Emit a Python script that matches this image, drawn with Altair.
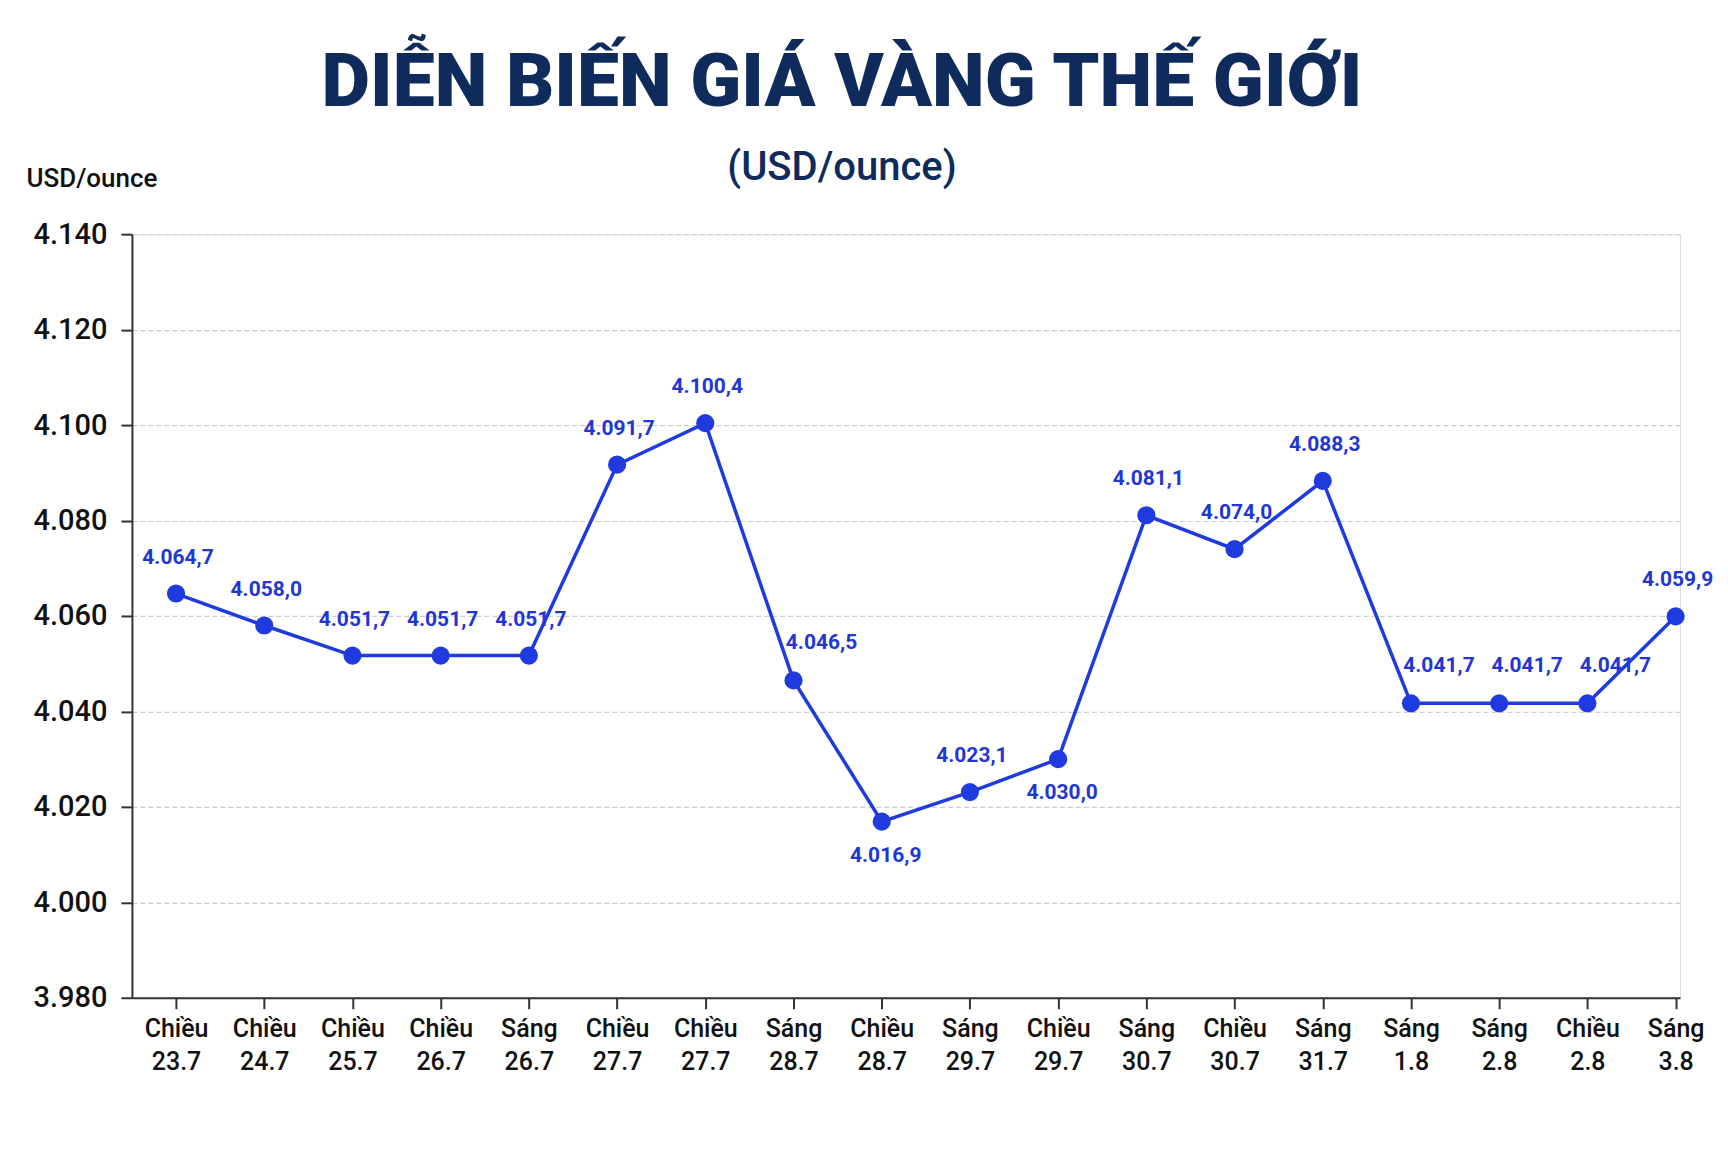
import json
import altair as alt
import pandas as pd

# ---- data ----
sessions = ["Chiều", "Chiều", "Chiều", "Chiều", "Sáng", "Chiều", "Chiều", "Sáng", "Chiều",
            "Sáng", "Chiều", "Sáng", "Chiều", "Sáng", "Sáng", "Sáng", "Chiều", "Sáng"]
dates = ["23.7", "24.7", "25.7", "26.7", "26.7", "27.7", "27.7", "28.7", "28.7",
         "29.7", "29.7", "30.7", "30.7", "31.7", "1.8", "2.8", "2.8", "3.8"]
prices = [4064.7, 4058.0, 4051.7, 4051.7, 4051.7, 4091.7, 4100.4, 4046.5, 4016.9,
          4023.1, 4030.0, 4081.1, 4074.0, 4088.3, 4041.7, 4041.7, 4041.7, 4059.9]
y_ticks = [3980, 4000, 4020, 4040, 4060, 4080, 4100, 4120, 4140]

TITLE = "DIỄN BIẾN GIÁ VÀNG THẾ GIỚI"
SUBTITLE = "(USD/ounce)"
Y_UNIT = "USD/ounce"

# ---- label placement groups (layout) ----
ABOVE_RIGHT = [7, 14, 15, 16]
BELOW = [8, 10]

def vn(v):
    s = f"{v:,.1f}"
    return s.replace(",", "X").replace(".", ",").replace("X", ".")

df = pd.DataFrame({
    "idx": list(range(len(prices))),
    "session": sessions,
    "date": dates,
    "price": prices,
})
df["label"] = [vn(v) for v in prices]
df["place"] = ["ar" if i in ABOVE_RIGHT else ("b" if i in BELOW else "a") for i in df["idx"]]

labels_js = json.dumps([[s, d] for s, d in zip(sessions, dates)], ensure_ascii=False)

BLUE = "#1f3be0"
LABEL_BLUE = "#2137d2"
NAVY = "#0f2b5b"
FONT = "Roboto"

x_enc = alt.X(
    "idx:Q",
    scale=alt.Scale(domain=[-0.5, len(prices) - 1 + 0.05], nice=False, zero=False),
    axis=alt.Axis(
        values=list(range(len(prices))),
        labelExpr=f"{labels_js}[datum.value]",
        title=None, grid=False, gridColor="transparent",
        tickSize=11, tickWidth=2, tickColor="#333",
        domainColor="#333", domainWidth=2,
        labelFont=FONT, labelFontSize=25, labelFontWeight=500, labelLineHeight=33,
        labelPadding=8, labelColor="#111", labelOverlap=False, labelFlush=False,
    ),
)
y_enc = alt.Y(
    "price:Q",
    scale=alt.Scale(domain=[y_ticks[0], y_ticks[-1]], nice=False, zero=False),
    axis=alt.Axis(
        values=y_ticks,
        labelExpr="replace(format(datum.value, ','), ',', '.')",
        title=Y_UNIT, titleAngle=0, titleX=-106, titleY=-56, titleAlign="left",
        titleBaseline="middle", titleFont=FONT, titleFontSize=26, titleFontWeight=500,
        titleColor="#111",
        grid=True, gridDash=[5, 3], gridColor="#cfcfcf", gridWidth=1.2,
        tickSize=11, tickWidth=2, tickColor="#333", domainColor="#333", domainWidth=2,
        labelFont=FONT, labelFontSize=29, labelFontWeight=500, labelPadding=14,
        labelColor="#111",
    ),
)

base = alt.Chart(df).encode(x=x_enc, y=y_enc)

line = base.mark_line(color=BLUE, strokeWidth=3.5)
points = base.mark_circle(color=BLUE, size=330, opacity=1)

def text_layer(place, dx, dy):
    return base.mark_text(
        font=FONT, fontSize=21, fontWeight="bold", color=LABEL_BLUE,
        dx=dx, dy=dy, baseline="middle", align="center",
    ).encode(text="label:N").transform_filter(alt.datum.place == place)

labels_above = text_layer("a", 2, -36)
labels_ar = text_layer("ar", 28, -37)
labels_below = text_layer("b", 4, 34)

chart = alt.layer(line, points, labels_above, labels_ar, labels_below).properties(
    width=1549,
    height=764,
    autosize=alt.AutoSizeParams(type="none"),
    padding={"left": 124, "top": 226, "right": 40, "bottom": 120},
    title=alt.TitleParams(
        TITLE, subtitle=SUBTITLE,
        font=FONT, fontSize=75, fontWeight=900, color=NAVY,
        subtitleFont=FONT, subtitleFontSize=40, subtitleFontWeight=500,
        subtitleColor=NAVY, subtitlePadding=26,
        anchor="middle", dx=-64, offset=-24,
    ),
).configure_view(stroke="transparent", strokeWidth=0).configure(background="white")

chart.save("out.html", embed_options={"renderer": "svg", "actions": False})
